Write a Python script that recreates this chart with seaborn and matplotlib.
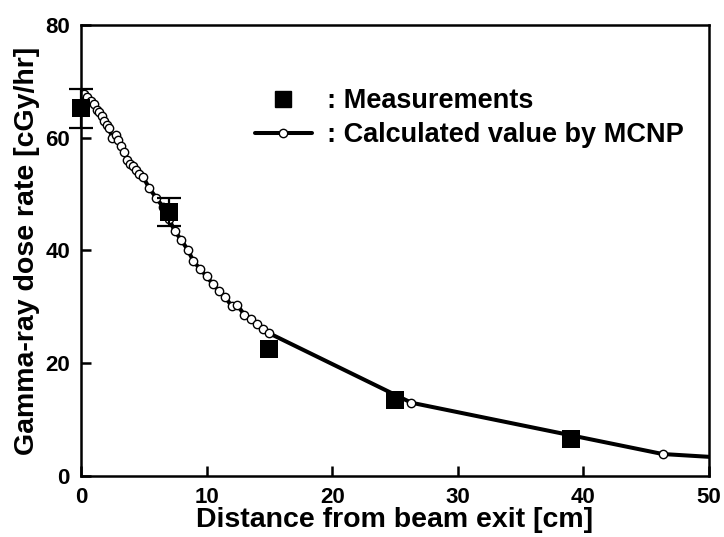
import matplotlib
matplotlib.use("Agg")
import matplotlib.pyplot as plt
from matplotlib.lines import Line2D
import seaborn as sns

# Measured gamma-ray dose rate
meas_x = [0, 7, 15, 25, 39]
meas_y = [65.2, 46.8, 22.5, 13.4, 6.6]
meas_err = [3.4, 2.5, 0, 0, 0]

# MCNP calculated values
calc_x = [0, 0.25, 0.45, 0.8, 1.05, 1.25, 1.45, 1.65, 1.85, 2.05, 2.2, 2.5, 2.75,
          2.95, 3.2, 3.45, 3.7, 3.9, 4.1, 4.35, 4.65, 4.95, 5.45, 6.0, 6.5, 7.0,
          7.45, 8.0, 8.5, 8.95, 9.45, 10.0, 10.5, 11.0, 11.5, 12.0, 12.45, 13.0,
          13.5, 14.0, 14.5, 15.0, 26.3, 46.3, 50.0]
calc_y = [68.0, 67.8, 67.3, 66.5, 66.0, 65.0, 64.6, 63.8, 62.9, 62.2, 61.7, 60.0,
          60.4, 59.6, 58.6, 57.4, 56.0, 55.3, 54.9, 54.3, 53.6, 53.0, 51.0, 49.3,
          47.8, 45.6, 43.5, 41.8, 40.1, 38.1, 36.8, 35.4, 34.0, 32.8, 31.7, 30.1,
          30.3, 28.6, 27.9, 27.0, 26.1, 25.3, 13.0, 3.9, 3.4]

x_ticks = [0, 10, 20, 30, 40, 50]
y_ticks = [0, 20, 40, 60, 80]

sns.set_style("ticks")
plt.rcParams["font.family"] = ["Liberation Sans", "DejaVu Sans"]
for k in ["text.color", "axes.labelcolor", "xtick.color", "ytick.color", "axes.edgecolor"]:
    plt.rcParams[k] = "black"

fig = plt.figure(figsize=(7.24, 5.37), dpi=100)
ax = fig.add_axes([0.1119, 0.1136, 0.8674, 0.8399])

# calculated curve
sns.lineplot(x=calc_x, y=calc_y, color="black", linewidth=2.9, marker="o",
             markersize=6, markerfacecolor="white", markeredgecolor="black",
             markeredgewidth=1.0, markevery=list(range(len(calc_x) - 1)),
             ax=ax, zorder=2)

# measurements (error bars only where given)
err_idx = [i for i, e in enumerate(meas_err) if e > 0]
ax.errorbar([meas_x[i] for i in err_idx], [meas_y[i] for i in err_idx],
            yerr=[meas_err[i] for i in err_idx], fmt="none", ecolor="black",
            elinewidth=1.6, capsize=8.5, capthick=1.6, zorder=3, clip_on=False)
sns.scatterplot(x=meas_x, y=meas_y, marker="s", s=165, color="black",
                edgecolor="black", linewidth=0, ax=ax, zorder=4, clip_on=False)

ax.set_xlim(0, 50)
ax.set_ylim(0, 80)
ax.set_xticks(x_ticks)
ax.set_yticks(y_ticks)
ax.tick_params(direction="in", length=7, width=1.8, labelsize=16, pad=8,
               top=False, right=False)
for lab in ax.get_xticklabels() + ax.get_yticklabels():
    lab.set_fontweight("bold")
for sp in ax.spines.values():
    sp.set_linewidth(1.8)
    sp.set_visible(True)

ax.set_xlabel("Distance from beam exit [cm]", fontsize=20.5, fontweight="bold",
              labelpad=-1)
ax.set_ylabel("Gamma-ray dose rate [cGy/hr]", fontsize=20.5, fontweight="bold",
              labelpad=4)

handles = [
    Line2D([], [], color="black", linestyle="none", marker="s", markersize=11.5),
    Line2D([], [], color="black", linewidth=2.9, marker="o", markersize=6,
           markerfacecolor="white", markeredgewidth=1.0),
]
ax.legend(handles, [": Measurements", ": Calculated value by MCNP"],
          loc="upper left", bbox_to_anchor=(0.277, 0.86), frameon=False,
          borderaxespad=0, borderpad=0, handlelength=2.1,
          handletextpad=0.55, labelspacing=0.3,
          prop={"weight": "bold", "size": 19.5})

fig.savefig("out.png", dpi=100)
